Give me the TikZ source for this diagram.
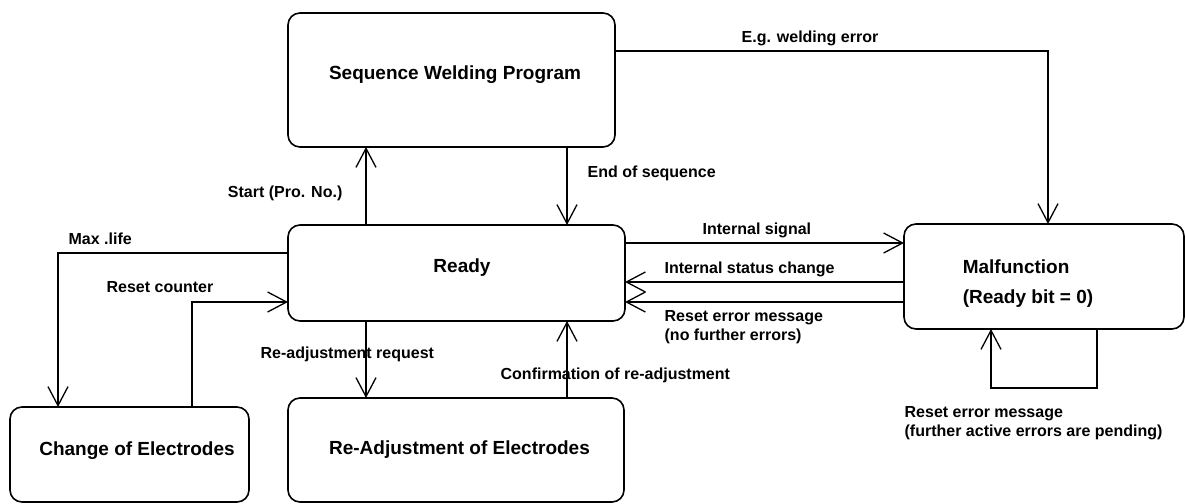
\documentclass[tikz,border=0pt]{standalone}
\usepackage{fontspec}
\setmainfont{Liberation Sans}
\usetikzlibrary{arrows.meta}

\begin{document}
\begin{tikzpicture}[x=1pt, y=-1pt, line width=1.3pt,
  >={Straight Barb[length=19pt,width=20pt]},
  statebox/.style={draw, line width=1.6pt, rounded corners=12pt, outer sep=0pt, inner sep=0pt},
  title/.style={font=\bfseries\fontsize{19}{30}\selectfont, inner sep=0pt},
  msg/.style={font=\bfseries\fontsize{16}{19}\selectfont, inner sep=0pt}]

\useasboundingbox (0,0) rectangle (1185,503);

% states
\node[statebox, minimum width=327pt, minimum height=134pt,
  label={[title, xshift=3.5pt, yshift=5.5pt]center:Sequence Welding Program}] (swp) at (451.5,80) {};
\node[statebox, minimum width=337pt, minimum height=96pt,
  label={[title, xshift=5.5pt, yshift=5.7pt]center:Ready}] (ready) at (456.5,273) {};
\node[statebox, minimum width=280pt, minimum height=105pt,
  label={[title, align=left, xshift=-16pt, yshift=-7.5pt]center:Malfunction\\(Ready bit = 0)}] (malf) at (1044,276.5) {};
\node[statebox, minimum width=239pt, minimum height=95pt,
  label={[title, xshift=7.5pt, yshift=3.7pt]center:Change of Electrodes}] (change) at (129.5,454.5) {};
\node[statebox, minimum width=336pt, minimum height=104pt,
  label={[title, xshift=3.5pt]center:Re-Adjustment of Electrodes}] (readj) at (456,450) {};

% transitions
\draw[->] ([xshift=78pt]ready.north west) -- ([xshift=78pt]swp.south west);
\draw[->] ([xshift=279pt]swp.south west) -- ([xshift=279pt]ready.north west);
\draw[->] ([yshift=-38pt]swp.north east) -| ([xshift=144pt]malf.north west);

\draw[->] ([yshift=-28pt]ready.north west) -| ([xshift=48pt]change.north west);
\draw[->] ([xshift=182pt]change.north west) |- ([yshift=-77pt]ready.north west);

\draw[->] ([xshift=78pt]ready.south west) -- ([xshift=78pt]readj.north west);
\draw[->] ([xshift=279pt]readj.north west) -- ([xshift=279pt]ready.south west);

\draw[->] ([yshift=-18pt]ready.north east) -- ([yshift=-19pt]malf.north west);
\draw[->] ([yshift=-58pt]malf.north west) -- ([yshift=-57pt]ready.north east);
\draw[->] ([yshift=-78pt]malf.north west) -- ([yshift=-77pt]ready.north east);

\draw[->] ([xshift=193pt]malf.south west) -- ++(0,59) -| ([xshift=87pt]malf.south west);

% labels
\node[msg, anchor=base west] (lerror) at (741,42.7) {E.g. welding error};
\node[msg, anchor=base east] (lstart) at (343,197.7) {Start (Pro. No.)};
\node[msg, anchor=base west] (lend) at (587,177.5) {End of sequence};
\node[msg, anchor=base west] (llife) at (68,244.5) {Max .life};
\node[msg, anchor=base west] (lcounter) at (106,292.5) {Reset counter};
\node[msg, anchor=base west] (lsignal) at (702,234.5) {Internal signal};
\node[msg, anchor=base west] (lstatus) at (664,273.3) {Internal status change};
\node[msg, anchor=north west, align=left] (lreset) at (664,309.8)
  {Reset error message\\(no further errors)};
\node[msg, anchor=base west] (lrequest) at (260,358.8) {Re-adjustment request};
\node[msg, anchor=base west] (lconfirm) at (500,379.7) {Confirmation of re-adjustment};
\node[msg, anchor=north west, align=left] (lpending) at (904,405.8)
  {Reset error message\\(further active errors are pending)};

\end{tikzpicture}
\end{document}
